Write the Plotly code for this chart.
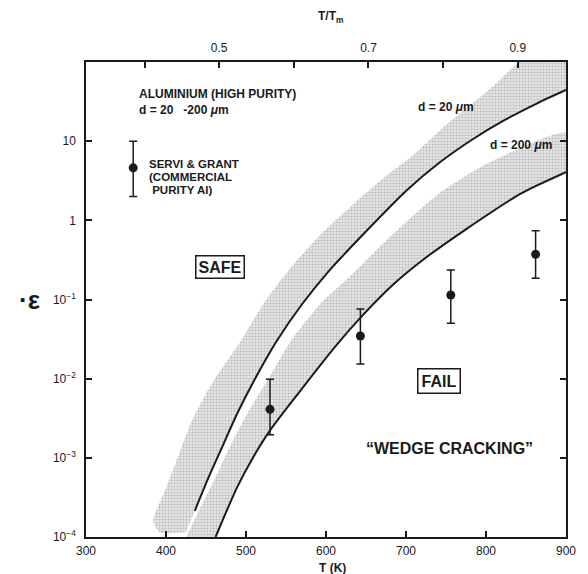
import plotly.graph_objects as go

# Melting point of aluminium (K), used for the homologous-temperature axis
TM = 933

# Fracture boundary for d = 20 um grain size
t_d20 = [436, 454, 472, 489, 511, 538, 570, 603, 652, 701, 742, 782, 823, 864, 900]
e_d20 = [2.14e-4, 5.9e-4, 1.50e-3, 3.63e-3, 9.84e-3, 0.0295, 0.0871, 0.2254,
         0.759, 2.40, 5.37, 10.35, 18.4, 30.1, 44.3]

# Fracture boundary for d = 200 um grain size
t_d200 = [462, 489, 509, 529, 562, 611, 644, 685, 721, 774, 844, 900]
e_d200 = [1.0e-4, 4.27e-4, 1.02e-3, 2.14e-3, 5.9e-3, 0.0251, 0.0603, 0.158,
          0.316, 0.759, 2.19, 4.07]

# Upper edge of the scatter band above the d = 20 um boundary
t_band20 = [425, 392, 384, 399, 415, 431, 448, 460, 489, 525, 562, 599, 636,
            672, 709, 746, 782, 813, 838, 900]
e_band20 = [1.15e-4, 1.15e-4, 1.6e-4, 3.9e-4, 1.03e-3, 2.73e-3, 5.9e-3, 9.6e-3,
            0.0254, 0.0986, 0.298, 0.755, 1.66, 3.43, 6.7, 14.7, 29.4, 54, 94, 293]

# Upper edge of the scatter band above the d = 200 um boundary
t_band200 = [425, 441, 462, 484, 502, 527, 557, 594, 629, 676, 742, 803, 900]
e_band200 = [1.0e-4, 2.13e-4, 5.7e-4, 1.68e-3, 3.68e-3, 9.6e-3, 0.0308, 0.0904,
             0.192, 0.565, 2.21, 5.3, 12.7]

# Measured strain rates with scatter
t_exp = [530, 643, 756, 862]
e_exp = [4.1e-3, 0.0346, 0.114, 0.372]
e_exp_hi = [0.0098, 0.076, 0.236, 0.74]
e_exp_lo = [1.95e-3, 0.0153, 0.050, 0.185]

# Servi & Grant, commercial purity Al
t_sg = [359]
e_sg = [4.6]
e_sg_hi = [10.0]
e_sg_lo = [2.0]

# Axis ticks
x_ticks = [300, 400, 500, 600, 700, 800, 900]
y_ticks = [1e-4, 1e-3, 1e-2, 1e-1, 1, 10]
y_ticktext = ["10<sup>\u22124</sup>", "10<sup>\u22123</sup>", "10<sup>\u22122</sup>",
              "10<sup>\u22121</sup>", "1", "10"]
hom_ticks = [0.4, 0.5, 0.6, 0.7, 0.8, 0.9]
hom_ticktext = ["", "0.5", "", "0.7", "", "0.9"]

FONT = "Liberation Sans"
INK = "#1a1a1a"

stipple = dict(shape=".", size=3, solidity=0.35, fgcolor="#8c8c8c", bgcolor="#e6e6e6")

fig = go.Figure()

# Scatter bands
fig.add_trace(go.Scatter(
    x=t_band20 + t_d20[::-1], y=e_band20 + e_d20[::-1],
    fill="toself", mode="lines", line=dict(width=0, shape="spline", smoothing=0.6),
    fillpattern=stipple, hoverinfo="skip", showlegend=False))
fig.add_trace(go.Scatter(
    x=t_band200 + t_d200[::-1], y=e_band200 + e_d200[::-1],
    fill="toself", mode="lines", line=dict(width=0, shape="spline", smoothing=0.6),
    fillpattern=stipple, hoverinfo="skip", showlegend=False))

# Boundaries
for t, e in ((t_d20, e_d20), (t_d200, e_d200)):
    fig.add_trace(go.Scatter(
        x=t, y=e, mode="lines",
        line=dict(color=INK, width=2, shape="spline", smoothing=0.8),
        showlegend=False))

# Data points with error bars
def add_points(t, e, hi, lo):
    fig.add_trace(go.Scatter(
        x=t, y=e, mode="markers",
        marker=dict(color=INK, size=9),
        error_y=dict(type="data", symmetric=False,
                     array=[h - v for h, v in zip(hi, e)],
                     arrayminus=[v - l for v, l in zip(e, lo)],
                     color=INK, thickness=1.5, width=4),
        showlegend=False))

add_points(t_exp, e_exp, e_exp_hi, e_exp_lo)
add_points(t_sg, e_sg, e_sg_hi, e_sg_lo)

# Empty trace so that the homologous-temperature axis is drawn
fig.add_trace(go.Scatter(x=[], y=[], xaxis="x2", yaxis="y", showlegend=False))

tickfont = dict(family=FONT, size=12, color=INK)

fig.update_layout(
    width=588, height=574,
    margin=dict(l=86, r=12, t=62, b=37),
    paper_bgcolor="white", plot_bgcolor="white",
    font=dict(family=FONT, color=INK),
    xaxis=dict(range=[300, 900], tickvals=x_ticks, ticks="inside", ticklen=6,
               tickwidth=1.5, tickcolor=INK, showline=True, linewidth=1.5,
               linecolor=INK, mirror=True, showgrid=False, zeroline=False,
               tickfont=tickfont, ticklabelstandoff=2),
    xaxis2=dict(range=[300 / TM, 900 / TM], overlaying="x", side="top",
                tickvals=hom_ticks, ticktext=hom_ticktext, ticks="inside",
                ticklen=6, tickwidth=1.5, tickcolor=INK, showline=True,
                linewidth=1.5, linecolor=INK, showgrid=False, zeroline=False,
                tickfont=tickfont, ticklabelstandoff=3),
    yaxis=dict(type="log", range=[-4, 2], tickvals=y_ticks, ticktext=y_ticktext,
               ticks="inside", ticklen=6, tickwidth=1.5, tickcolor=INK,
               showline=True, linewidth=1.5, linecolor=INK, mirror="ticks",
               showgrid=False, zeroline=False, tickfont=tickfont,
               ticklabelstandoff=6),
)

def note(text, x, y, size=12, xanchor="left", **kw):
    fig.add_annotation(text=text, x=x, y=y, xref="x", yref="y", showarrow=False,
                       xanchor=xanchor, yanchor="middle",
                       font=dict(family=FONT, size=size, color=INK), **kw)

note("<b>ALUMINIUM (HIGH PURITY)</b>", 363.7, 1.596)
note("<b>d = 20   -200 <i>\u03bc</i>m</b>", 363.7, 1.394)
note("<b>SERVI &amp; GRANT</b>", 375.9, 0.712, size=11.5)
note("<b>(COMMERCIAL</b>", 375.9, 0.545, size=11.5)
note("<b> PURITY Al)</b>", 375.9, 0.378, size=11.5)
note("<b>d = 20 <i>\u03bc</i>m</b>", 750.6, 1.432, xanchor="center")
note("<b>d = 200 <i>\u03bc</i>m</b>", 843.7, 0.952, xanchor="center")
note("<b>SAFE</b>", 467.8, -0.589, size=16, xanchor="center",
     bordercolor=INK, borderwidth=1.5, borderpad=2)
note("<b>FAIL</b>", 741, -2.029, size=16, xanchor="center",
     bordercolor=INK, borderwidth=1.5, borderpad=3)
note("<b>\u201cWEDGE CRACKING\u201d</b>", 754, -2.888, size=16, xanchor="center")

# Axis titles
fig.add_annotation(text="<b>T (K)</b>", x=0.513, y=-0.065, xref="paper", yref="paper",
                   showarrow=False, xanchor="center", yanchor="middle",
                   font=dict(family=FONT, size=12, color=INK))
fig.add_annotation(text="<b>T/T<sub>m</sub></b>", x=0.51, y=1.094, xref="paper",
                   yref="paper", showarrow=False, xanchor="center", yanchor="middle",
                   font=dict(family=FONT, size=12, color=INK))
fig.add_annotation(text="<b>\u00b7\u03b5</b>", x=-0.118, y=0.5, xref="paper",
                   yref="paper", showarrow=False, xanchor="center", yanchor="middle",
                   font=dict(family=FONT, size=26, color=INK))

fig.write_html("out.html")
